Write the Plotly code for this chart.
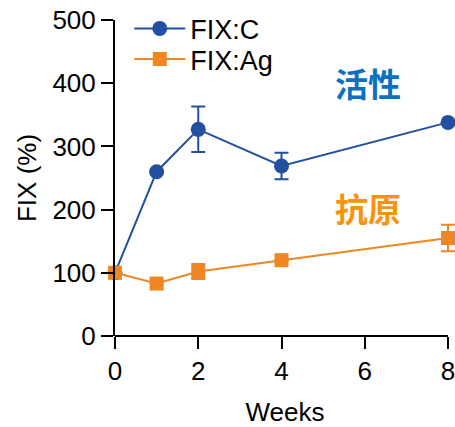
import plotly.graph_objects as go

# Weeks of follow-up
weeks = [0, 1, 2, 4, 8]

# FIX activity (FIX:C) and antigen (FIX:Ag), percent of baseline
fix_c = [100, 260, 327, 269, 338]
fix_c_err = [0, 0, 36, 21, 0]
fix_ag = [100, 83, 102, 120, 155]
fix_ag_err = [0, 0, 12, 0, 21]

series_names = ["FIX:C", "FIX:Ag"]
label_activity = "活性"
label_antigen = "抗原"

x_ticks = [0, 2, 4, 6, 8]
y_ticks = [0, 100, 200, 300, 400, 500]
x_last = 8

BLUE = "#2150a0"
ORANGE = "#f08623"
FONT = "Liberation Sans, Arial, sans-serif"
FS = 26

fig = go.Figure()

fig.add_trace(go.Scatter(
    x=weeks, y=fix_c, name=series_names[0], mode="lines+markers",
    line=dict(color=BLUE, width=2),
    marker=dict(symbol="circle", size=15, color=BLUE),
    error_y=dict(type="data", array=fix_c_err, visible=True,
                 color=BLUE, thickness=2, width=7),
    cliponaxis=False, legend="legend",
))
fig.add_trace(go.Scatter(
    x=weeks, y=fix_ag, name=series_names[1], mode="lines+markers",
    line=dict(color=ORANGE, width=2),
    marker=dict(symbol="square", size=14, color=ORANGE),
    error_y=dict(type="data", array=fix_ag_err, visible=True,
                 color=ORANGE, thickness=2, width=7),
    cliponaxis=False, legend="legend2",
))

fig.add_annotation(x=6.08, y=400, text=f"<b>{label_activity}</b>", showarrow=False,
                   font=dict(family="Noto Sans CJK SC", size=33, color="#0b6fc3"),
                   xref="x", yref="y")
fig.add_annotation(x=6.08, y=203, text=f"<b>{label_antigen}</b>", showarrow=False,
                   font=dict(family="Noto Sans CJK SC", size=33, color="#f7930f"),
                   xref="x", yref="y")

# x axis line drawn only up to the last tick
fig.add_shape(type="line", xref="x", yref="paper", x0=0, x1=x_last, y0=0, y1=0,
              line=dict(color="black", width=2), layer="above")

legend_common = dict(xanchor="left", yanchor="middle", bgcolor="rgba(0,0,0,0)",
                     font=dict(size=27), itemwidth=51)

fig.update_layout(
    width=455, height=427,
    margin=dict(l=115, r=0, t=20, b=91),
    paper_bgcolor="white", plot_bgcolor="white",
    font=dict(family=FONT, size=FS, color="black"),
    legend=dict(x=0.042, y=0.972, **legend_common),
    legend2=dict(x=0.042, y=0.875, **legend_common),
    showlegend=True,
)

fig.update_xaxes(
    range=[0, 8.168], tickvals=x_ticks, ticks="outside", ticklen=12, tickwidth=2,
    tickcolor="black", showline=False,
    showgrid=False, zeroline=False, ticklabeloverflow="allow",
    title=dict(text="Weeks", font=dict(size=FS), standoff=20),
    tickfont=dict(size=FS),
)
fig.update_yaxes(
    range=[0, 500], tickvals=y_ticks, ticks="outside", ticklen=12, tickwidth=2,
    tickcolor="black", showline=True, linewidth=2, linecolor="black",
    showgrid=False, zeroline=False,
    title=dict(text="FIX (%)", font=dict(size=FS), standoff=8),
    tickfont=dict(size=FS),
)

fig.write_html("out.html")
